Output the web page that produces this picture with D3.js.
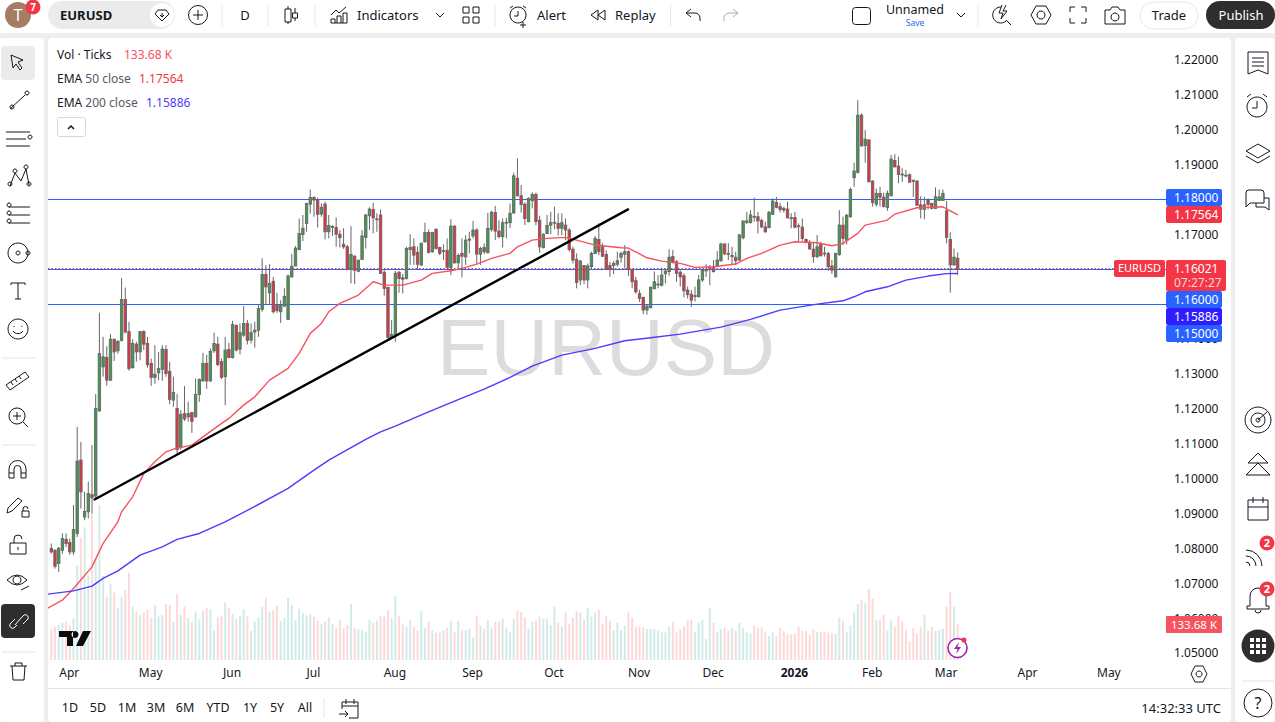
<!DOCTYPE html>
<html>
<head>
<meta charset="utf-8">
<title>EURUSD</title>
<style>
    html, body { margin: 0; padding: 0; background: #eeeeee; overflow: hidden; }
    svg { display: block; font-family: "Noto Sans", sans-serif; }
    .domain { display: none; }
</style>
<script src="https://cdnjs.cloudflare.com/ajax/libs/d3/7.9.0/d3.min.js"></script>
</head>
<body>
<svg id="chart" width="1275" height="722"></svg>
<script>
// daily candles
var opens = [
    1.0801,1.0796,1.0758,1.0796,1.0827,1.0818,1.0791,1.0844,1.1054,1.0891,
    1.0906,1.0955,1.0951,1.1195,1.1321,1.1348,1.1283,1.1400,1.1367,1.1397,
    1.1514,1.1422,1.1319,1.1386,1.1364,1.1422,1.1388,1.1331,1.1291,1.1304,
    1.1314,1.1371,1.1308,1.1226,1.1202,1.1092,1.1187,1.1178,1.1190,1.1178,
    1.1242,1.1281,1.1331,1.1281,1.1367,1.1386,1.1336,1.1293,1.1371,1.1348,
    1.1440,1.1372,1.1412,1.1445,1.1398,1.1421,1.1426,1.1486,1.1586,1.1533,
    1.1566,1.1498,1.1479,1.1495,1.1457,1.1579,1.1610,1.1657,1.1700,1.1732,
    1.1787,1.1806,1.1799,1.1759,1.1787,1.1708,1.1721,1.1720,1.1701,1.1672,
    1.1665,1.1600,1.1638,1.1595,1.1629,1.1692,1.1754,1.1772,1.1743,1.1756,
    1.1592,1.1549,1.1405,1.1414,1.1592,1.1576,1.1574,1.1657,1.1665,1.1649,
    1.1613,1.1679,1.1706,1.1651,1.1715,1.1663,1.1652,1.1655,1.1606,1.1724,
    1.1619,1.1646,1.1636,1.1684,1.1696,1.1713,1.1644,1.1663,1.1648,1.1715,
    1.1763,1.1710,1.1694,1.1733,1.1734,1.1762,1.1861,1.1811,1.1787,1.1737,
    1.1797,1.1815,1.1741,1.1663,1.1703,1.1727,1.1733,1.1732,1.1718,1.1727,
    1.1713,1.1658,1.1629,1.1570,1.1611,1.1570,1.1608,1.1646,1.1686,1.1665,
    1.1643,1.1611,1.1611,1.1615,1.1635,1.1644,1.1651,1.1600,1.1568,1.1531,
    1.1520,1.1484,1.1491,1.1545,1.1556,1.1555,1.1588,1.1594,1.1637,1.1622,
    1.1592,1.1582,1.1541,1.1529,1.1523,1.1522,1.1570,1.1596,1.1604,1.1608,
    1.1610,1.1625,1.1673,1.1646,1.1637,1.1635,1.1627,1.1691,1.1735,1.1734,
    1.1752,1.1751,1.1740,1.1722,1.1720,1.1758,1.1792,1.1780,1.1775,1.1773,
    1.1748,1.1749,1.1725,1.1721,1.1686,1.1677,1.1658,1.1637,1.1673,1.1647,
    1.1646,1.1610,1.1579,1.1643,1.1727,1.1684,1.1751,1.1863,1.1878,1.2042,
    1.1955,1.1971,1.1853,1.1787,1.1818,1.1807,1.1778,1.1811,1.1912,1.1896,
    1.1873,1.1870,1.1871,1.1855,1.1853,1.1785,1.1772,1.1799,1.1789,1.1775,
    1.1798,1.1798,1.1768,1.1686,1.1613,1.1632
];
var highs = [
    1.0815,1.0798,1.0805,1.0844,1.0844,1.0829,1.0925,1.1149,1.1106,1.0963,
    1.0992,1.1097,1.1243,1.1476,1.1407,1.1380,1.1415,1.1402,1.1398,1.1575,
    1.1548,1.1450,1.1400,1.1393,1.1424,1.1426,1.1407,1.1345,1.1383,1.1364,
    1.1383,1.1383,1.1336,1.1293,1.1243,1.1197,1.1266,1.1221,1.1192,1.1288,
    1.1288,1.1361,1.1355,1.1374,1.1419,1.1407,1.1345,1.1407,1.1390,1.1453,
    1.1442,1.1445,1.1495,1.1455,1.1445,1.1450,1.1501,1.1632,1.1612,1.1615,
    1.1579,1.1533,1.1512,1.1546,1.1586,1.1644,1.1667,1.1746,1.1756,1.1791,
    1.1829,1.1810,1.1806,1.1789,1.1794,1.1756,1.1727,1.1749,1.1713,1.1718,
    1.1670,1.1724,1.1641,1.1629,1.1713,1.1759,1.1778,1.1791,1.1761,1.1772,
    1.1598,1.1550,1.1455,1.1596,1.1596,1.1587,1.1665,1.1701,1.1689,1.1665,
    1.1677,1.1734,1.1715,1.1708,1.1718,1.1665,1.1672,1.1689,1.1744,1.1727,
    1.1646,1.1689,1.1698,1.1708,1.1739,1.1718,1.1665,1.1675,1.1762,1.1768,
    1.1782,1.1741,1.1746,1.1748,1.1789,1.1877,1.1918,1.1842,1.1792,1.1806,
    1.1821,1.1820,1.1754,1.1703,1.1756,1.1765,1.1780,1.1761,1.1761,1.1746,
    1.1718,1.1665,1.1646,1.1627,1.1613,1.1617,1.1651,1.1696,1.1732,1.1675,
    1.1655,1.1622,1.1624,1.1651,1.1651,1.1670,1.1655,1.1603,1.1579,1.1541,
    1.1522,1.1498,1.1551,1.1594,1.1584,1.1605,1.1603,1.1658,1.1656,1.1627,
    1.1598,1.1589,1.1551,1.1541,1.1551,1.1584,1.1603,1.1615,1.1613,1.1627,
    1.1653,1.1677,1.1675,1.1675,1.1665,1.1651,1.1701,1.1739,1.1765,1.1770,
    1.1806,1.1765,1.1746,1.1737,1.1768,1.1804,1.1808,1.1791,1.1780,1.1794,
    1.1761,1.1765,1.1732,1.1746,1.1689,1.1684,1.1679,1.1699,1.1679,1.1665,
    1.1651,1.1627,1.1648,1.1770,1.1751,1.1759,1.1834,1.1906,1.2085,1.2047,
    1.1999,1.1973,1.1856,1.1832,1.1837,1.1820,1.1826,1.1928,1.1930,1.1923,
    1.1890,1.1885,1.1875,1.1858,1.1856,1.1810,1.1808,1.1804,1.1791,1.1835,
    1.1829,1.1829,1.1796,1.1706,1.1660,1.1649
];
var lows = [
    1.0786,1.0743,1.0734,1.0786,1.0805,1.0782,1.0782,1.0834,1.0915,1.0882,
    1.0887,1.0901,1.0944,1.1192,1.1293,1.1267,1.1281,1.1338,1.1359,1.1394,
    1.1417,1.1310,1.1316,1.1336,1.1340,1.1369,1.1319,1.1267,1.1273,1.1283,
    1.1281,1.1293,1.1214,1.1207,1.1068,1.1084,1.1166,1.1164,1.1132,1.1176,
    1.1221,1.1278,1.1258,1.1278,1.1361,1.1323,1.1286,1.1211,1.1345,1.1345,
    1.1365,1.1357,1.1407,1.1385,1.1388,1.1376,1.1407,1.1479,1.1498,1.1501,
    1.1474,1.1476,1.1447,1.1493,1.1455,1.1576,1.1610,1.1655,1.1681,1.1708,
    1.1760,1.1751,1.1720,1.1751,1.1686,1.1689,1.1696,1.1665,1.1663,1.1659,
    1.1598,1.1560,1.1558,1.1592,1.1627,1.1660,1.1713,1.1703,1.1708,1.1587,
    1.1525,1.1402,1.1402,1.1393,1.1533,1.1531,1.1571,1.1613,1.1613,1.1600,
    1.1610,1.1677,1.1646,1.1648,1.1657,1.1641,1.1627,1.1603,1.1584,1.1617,
    1.1603,1.1577,1.1613,1.1646,1.1689,1.1617,1.1613,1.1644,1.1646,1.1708,
    1.1684,1.1689,1.1663,1.1689,1.1719,1.1759,1.1810,1.1763,1.1727,1.1735,
    1.1775,1.1727,1.1648,1.1660,1.1701,1.1701,1.1715,1.1697,1.1698,1.1684,
    1.1651,1.1617,1.1546,1.1555,1.1558,1.1546,1.1603,1.1644,1.1641,1.1636,
    1.1598,1.1579,1.1587,1.1608,1.1619,1.1603,1.1581,1.1546,1.1531,1.1507,
    1.1472,1.1471,1.1488,1.1543,1.1546,1.1551,1.1560,1.1582,1.1617,1.1565,
    1.1551,1.1520,1.1517,1.1493,1.1508,1.1520,1.1565,1.1579,1.1555,1.1591,
    1.1608,1.1622,1.1641,1.1627,1.1615,1.1613,1.1625,1.1686,1.1730,1.1732,
    1.1737,1.1703,1.1718,1.1705,1.1718,1.1756,1.1775,1.1763,1.1763,1.1746,
    1.1718,1.1718,1.1679,1.1682,1.1675,1.1656,1.1619,1.1632,1.1638,1.1637,
    1.1596,1.1587,1.1577,1.1639,1.1670,1.1672,1.1749,1.1837,1.1875,1.1952,
    1.1906,1.1851,1.1780,1.1780,1.1780,1.1778,1.1768,1.1810,1.1892,1.1847,
    1.1851,1.1864,1.1849,1.1808,1.1782,1.1746,1.1744,1.1772,1.1772,1.1773,
    1.1796,1.1796,1.1675,1.1534,1.1610,1.1584
];
var closes = [
    1.0791,1.0750,1.0801,1.0829,1.0815,1.0791,1.0855,1.1051,1.0963,1.0907,
    1.0958,1.0946,1.1202,1.1359,1.1350,1.1283,1.1400,1.1364,1.1394,1.1514,
    1.1421,1.1316,1.1388,1.1364,1.1422,1.1386,1.1327,1.1291,1.1300,1.1316,
    1.1372,1.1302,1.1228,1.1248,1.1084,1.1185,1.1172,1.1187,1.1165,1.1242,
    1.1285,1.1331,1.1281,1.1365,1.1388,1.1328,1.1291,1.1369,1.1348,1.1442,
    1.1369,1.1419,1.1445,1.1397,1.1419,1.1426,1.1488,1.1586,1.1550,1.1560,
    1.1479,1.1482,1.1498,1.1523,1.1581,1.1609,1.1661,1.1703,1.1718,1.1789,
    1.1806,1.1799,1.1758,1.1778,1.1708,1.1726,1.1723,1.1701,1.1691,1.1665,
    1.1600,1.1643,1.1598,1.1626,1.1696,1.1756,1.1773,1.1748,1.1745,1.1589,
    1.1546,1.1405,1.1414,1.1589,1.1574,1.1572,1.1660,1.1663,1.1641,1.1615,
    1.1675,1.1706,1.1649,1.1706,1.1660,1.1646,1.1654,1.1606,1.1724,1.1619,
    1.1640,1.1638,1.1684,1.1687,1.1713,1.1644,1.1660,1.1651,1.1718,1.1764,
    1.1710,1.1694,1.1734,1.1735,1.1761,1.1868,1.1811,1.1786,1.1746,1.1804,
    1.1815,1.1737,1.1665,1.1701,1.1726,1.1734,1.1735,1.1718,1.1734,1.1713,
    1.1657,1.1627,1.1563,1.1624,1.1570,1.1610,1.1646,1.1689,1.1651,1.1638,
    1.1600,1.1600,1.1617,1.1625,1.1646,1.1651,1.1600,1.1565,1.1536,1.1517,
    1.1484,1.1495,1.1549,1.1565,1.1558,1.1584,1.1595,1.1635,1.1622,1.1589,
    1.1579,1.1539,1.1528,1.1512,1.1525,1.1570,1.1598,1.1600,1.1606,1.1594,
    1.1627,1.1673,1.1645,1.1644,1.1640,1.1625,1.1699,1.1739,1.1739,1.1756,
    1.1750,1.1739,1.1722,1.1708,1.1764,1.1796,1.1778,1.1772,1.1770,1.1748,
    1.1746,1.1721,1.1723,1.1689,1.1677,1.1659,1.1637,1.1665,1.1639,1.1645,
    1.1608,1.1598,1.1646,1.1727,1.1689,1.1755,1.1829,1.1882,1.2042,1.1954,
    1.1973,1.1851,1.1792,1.1818,1.1807,1.1780,1.1818,1.1916,1.1894,1.1872,
    1.1871,1.1868,1.1850,1.1853,1.1784,1.1773,1.1785,1.1786,1.1775,1.1808,
    1.1808,1.1818,1.1692,1.1613,1.1635,1.1602
];
// tick volume, in thousands
var volumes = [
    114,124,130,139,142,130,155,352,453,493,
    315,542,378,575,312,235,282,250,194,235,
    260,324,198,180,167,177,186,157,204,161,
    167,208,204,142,245,167,198,157,142,180,
    152,183,194,189,111,157,163,213,194,171,
    152,163,189,161,108,142,157,198,230,180,
    186,202,146,157,230,205,149,192,176,165,
    171,161,146,134,142,157,134,120,149,120,
    130,208,120,114,111,104,149,139,146,163,
    163,186,154,238,163,136,124,149,124,109,
    182,118,142,111,102,102,111,121,145,102,
    145,111,111,115,83,163,128,116,149,121,
    142,142,152,121,102,152,182,178,157,116,
    142,146,161,154,152,
    130,198,139,126,176,134,157,180,176,149,
    194,161,176,186,134,163,146,111,139,111,
    128,176,157,124,124,121,115,115,114,109,
    103,102,124,142,102,114,126,146,149,105,
    139,149,78,194,139,105,115,120,111,118,
    108,139,118,102,99,128,118,121,105,89,
    102,89,120,108,95,95,99,124,108,108,
    93,114,105,105,105,103,99,97,157,146,
    105,130,176,208,223,210,264,227,149,149,
    170,111,146,124,163,146,111,68,118,99,
    124,167,108,124,108,111,115,198,254,198,
    133.68
];

// moving averages: bar number and value at the points read
var ema50Bars = [-1,3,6,11,14,18,19,22,25,28,31,33,38,41,45,48,52,55,59,64,67,70,73,75,78,83,87,90,95,100,103,108,111,115,119,124,126,130,134,139,142,147,154,156,161,165,170,174,179,185,188,192,197,201,207,211,214,218,220,226,228,234,237,241,245];
var ema50Values = [1.06298,1.06528,1.06863,1.07482,1.08153,1.08771,1.09058,1.09488,1.10158,1.10491,1.10777,1.10855,1.10968,1.11206,1.11513,1.11733,1.12114,1.12352,1.12831,1.13166,1.13596,1.14169,1.14455,1.14788,1.15029,1.15266,1.15647,1.15553,1.15553,1.15696,1.15888,1.15963,1.16031,1.16155,1.16318,1.16461,1.16650,1.16842,1.16891,1.16920,1.16842,1.16699,1.16622,1.16613,1.16335,1.16240,1.16175,1.16060,1.16077,1.16155,1.16318,1.16461,1.16699,1.16793,1.16765,1.16679,1.16748,1.17034,1.17272,1.17415,1.17587,1.17768,1.17779,1.17796,1.17564];
var ema200Bars = [-1,6,11,14,18,24,30,34,40,47,54,64,71,75,85,89,93,101,109,117,124,130,138,147,155,162,170,181,189,197,207,214,217,220,226,231,237,242,245];
var ema200Values = [1.06699,1.06794,1.06929,1.07150,1.07368,1.07817,1.08055,1.08267,1.08438,1.08771,1.09155,1.09728,1.10252,1.10538,1.11133,1.11350,1.11514,1.11878,1.12230,1.12574,1.12909,1.13233,1.13548,1.13740,1.13958,1.14044,1.14149,1.14349,1.14570,1.14836,1.15008,1.15103,1.15218,1.15361,1.15504,1.15696,1.15811,1.15880,1.15886];

// drawn objects
var levelPrices = [1.18, 1.16, 1.15];
var trendBars = [11.7, 155.9];
var trendPrices = [1.0941, 1.1772];
var lastPrice = 1.16021;

// axes
var priceTicks = [1.22,1.21,1.20,1.19,1.18,1.17,1.14,1.13,1.12,1.11,1.10,1.09,1.08,1.07,1.06,1.05];
var monthBars = [5,27,49,71,93,114,136,159,179,201,222,242,264,286];
var monthNames = ['Apr','May','Jun','Jul','Aug','Sep','Oct','Nov','Dec','2026','Feb','Mar','Apr','May'];
var rangeNames = ['1D','5D','1M','3M','6M','YTD','1Y','5Y','All'];

var INK = '#131722';
var UP = '#3f9c4a', DOWN = '#e8313f', WICK = '#666666';
var BLUE = '#2962ff', RED = '#f23645', EMA50 = '#f7525f', EMA200 = '#4c3cff';

var svg = d3.select('#chart');

// panels
function panel(x, y, w, h, r) {
    return svg.append('rect').attr('x', x).attr('y', y).attr('width', w).attr('height', h).attr('rx', r || 0).attr('fill', '#ffffff');
}
panel(0, 0, 1275, 33);
panel(0, 38, 44, 684, 3);
panel(48, 38, 1183, 684, 4);
panel(1235, 38, 40, 684, 3);
svg.append('line').attr('x1', 48).attr('x2', 1231).attr('y1', 688.5).attr('y2', 688.5).attr('stroke', '#e0e3eb');

var x = d3.scaleLinear().domain([0, 245]).range([51.3, 957.7]);
var y = d3.scaleLinear().domain([1.22, 1.05]).range([60, 653.5]);
var yVol = d3.scaleLinear().domain([0, 133.68]).range([660, 624]);

svg.append('defs').append('clipPath').attr('id', 'pane').append('rect')
    .attr('x', 48).attr('y', 38).attr('width', 1118).attr('height', 622);
var pane = svg.append('g').attr('clip-path', 'url(#pane)');

// watermark
pane.append('text').attr('x', 606).attr('y', 375).attr('text-anchor', 'middle')
    .attr('font-family', 'Liberation Sans').attr('font-size', 80).attr('fill', '#dcdcde').text('EURUSD');

// volume
pane.selectAll('.vol').data(volumes).enter().append('rect').attr('class', 'vol')
    .attr('x', function(d, i){ return x(i) - 1; })
    .attr('width', 2)
    .attr('y', function(d){ return yVol(d); })
    .attr('height', function(d){ return yVol(0) - yVol(d); })
    .attr('fill', function(d, i){ return closes[i] >= opens[i] ? '#d1ece8' : '#fdd9d9'; });

// horizontal levels
pane.selectAll('.level').data(levelPrices).enter().append('line').attr('class', 'level')
    .attr('x1', 48).attr('x2', 1166)
    .attr('y1', function(d){ return Math.floor(y(d)) + 0.5; })
    .attr('y2', function(d){ return Math.floor(y(d)) + 0.5; })
    .attr('stroke', BLUE);

// candles
var candle = pane.selectAll('.candle').data(opens).enter().append('g').attr('class', 'candle');
candle.append('line')
    .attr('x1', function(d, i){ return x(i); })
    .attr('x2', function(d, i){ return x(i); })
    .attr('y1', function(d, i){ return y(highs[i]); })
    .attr('y2', function(d, i){ return y(lows[i]); })
    .attr('stroke', WICK);
candle.append('rect')
    .attr('x', function(d, i){ return x(i) - 1.2; })
    .attr('width', 2.4)
    .attr('y', function(d, i){ return y(Math.max(opens[i], closes[i])); })
    .attr('height', function(d, i){ return Math.max(Math.abs(y(opens[i]) - y(closes[i])), 0.8); })
    .attr('fill', function(d, i){ return closes[i] >= opens[i] ? UP : DOWN; })
    .attr('stroke', WICK).attr('stroke-width', 0.9);

// ema lines
function emaPath(bars, values, colour) {
    var line = d3.line()
        .x(function(d){ return x(d); })
        .y(function(d, i){ return y(values[i]); });
    pane.append('path').attr('d', line(bars)).attr('fill', 'none').attr('stroke', colour)
        .attr('stroke-width', 1.4).attr('stroke-linejoin', 'round');
}
emaPath(ema50Bars, ema50Values, EMA50);
emaPath(ema200Bars, ema200Values, EMA200);

// trend line
pane.append('line')
    .attr('x1', x(trendBars[0])).attr('y1', y(trendPrices[0]))
    .attr('x2', x(trendBars[1])).attr('y2', y(trendPrices[1]))
    .attr('stroke', '#000000').attr('stroke-width', 2.4).attr('stroke-linecap', 'round');

// last price
pane.append('line').attr('x1', 48).attr('x2', 1114)
    .attr('y1', 268.5).attr('y2', 268.5)
    .attr('stroke', RED).attr('stroke-dasharray', '1.5,2');

// price axis
var priceAxis = d3.axisRight(y).tickValues(priceTicks).tickSize(0).tickPadding(0).tickFormat(d3.format('.5f'));
svg.append('g').attr('transform', 'translate(1174,-0.4)').call(priceAxis)
    .selectAll('text').attr('font-family', '"Noto Sans"').attr('font-size', 12).attr('fill', INK);

// time axis
var timeAxis = d3.axisBottom(x).tickValues(monthBars).tickSize(0).tickPadding(0)
    .tickFormat(function(d, i){ return monthNames[i]; });
svg.append('g').attr('transform', 'translate(-1,668)').call(timeAxis)
    .selectAll('text').attr('font-family', '"Noto Sans"').attr('font-size', 12).attr('fill', INK)
    .attr('font-weight', function(d, i){ return monthNames[i] === '2026' ? 700 : 400; });

function label(px, py, txt, colour, size, anchor, weight) {
    return svg.append('text').attr('x', px).attr('y', py).attr('dy', '0.35em')
        .attr('font-size', size || 12).attr('fill', colour || INK)
        .attr('text-anchor', anchor || 'start').attr('font-weight', weight || 400).text(txt);
}

// price labels on the scale
function priceTag(top, h, w, colour, txt) {
    svg.append('rect').attr('x', 1166).attr('y', top).attr('width', w).attr('height', h).attr('rx', 2).attr('fill', colour);
    label(1174, top + h / 2, txt, '#ffffff', 12);
}
priceTag(189, 17, 56, BLUE, d3.format('.5f')(levelPrices[0]));
priceTag(206, 17, 56, RED, '1.17564');
priceTag(291, 17, 56, BLUE, d3.format('.5f')(levelPrices[1]));
priceTag(308, 17, 56, '#2f1cff', '1.15886');
priceTag(325, 17, 56, BLUE, d3.format('.5f')(levelPrices[2]));
svg.append('rect').attr('x', 1166).attr('y', 260).attr('width', 60).attr('height', 31).attr('rx', 2).attr('fill', RED);
label(1174, 268.5, d3.format('.5f')(lastPrice), '#ffffff', 12);
label(1174, 283, '07:27:27', '#ffd3d7', 12);
svg.append('rect').attr('x', 1114).attr('y', 260).attr('width', 51).attr('height', 17).attr('rx', 2).attr('fill', RED);
label(1139.5, 268.5, 'EURUSD', '#ffffff', 11, 'middle');
svg.append('rect').attr('x', 1166).attr('y', 616).attr('width', 56).attr('height', 17).attr('rx', 1).attr('fill', '#f7525f');
label(1194, 624.5, '133.68 K', '#ffffff', 11.5, 'middle');

// legend
label(57, 55, 'Vol · Ticks', INK, 12);
label(124, 55, '133.68 K', '#f7525f', 12);
var legendEma = label(57, 78.5, 'EMA', INK, 12);
legendEma.append('tspan').attr('fill', '#555a66').text(' 50 close');
label(139, 78.5, '1.17564', RED, 12);
var legendEma2 = label(57, 102.5, 'EMA', INK, 12);
legendEma2.append('tspan').attr('fill', '#555a66').text(' 200 close');
label(146, 102.5, '1.15886', EMA200, 12);
svg.append('rect').attr('x', 57.5).attr('y', 117.5).attr('width', 28).attr('height', 19).attr('rx', 2)
    .attr('fill', '#fff').attr('stroke', '#d6d8de');
svg.append('path').attr('d', 'M68 129l3-3 3 3').attr('fill', 'none').attr('stroke', INK).attr('stroke-width', 1.5);

// icons
function icon(px, py, d, colour, width) {
    return svg.append('path').attr('transform', 'translate(' + px + ',' + py + ')').attr('d', d)
        .attr('fill', 'none').attr('stroke', colour || INK).attr('stroke-width', width || 1);
}
function circle(px, py, r, fill, stroke) {
    return svg.append('circle').attr('cx', px).attr('cy', py).attr('r', r)
        .attr('fill', fill || 'none').attr('stroke', stroke || 'none');
}
function badge(px, py, txt, size) {
    circle(px, py, 7.5, RED);
    label(px, py, txt, '#ffffff', size || 11, 'middle', 700);
}
function separator(x1, y1, x2, y2) {
    svg.append('line').attr('x1', x1).attr('y1', y1).attr('x2', x2).attr('y2', y2).attr('stroke', '#e6e6e8');
}

// logo and flash badge
svg.append('path').attr('transform', 'translate(59,631)')
    .attr('d', 'M0 0h14v15h-6v-9h-8zM24 0h8l-8 15h-7zM16 0a3.5 3.5 0 1 0 .01 0')
    .attr('fill', '#0b0b0b');
circle(957.5, 648, 9.5, '#fff', '#9c27b0').attr('stroke-width', 1.6);
svg.append('path').attr('d', 'M959 642l-5 7h3.5l-1.5 5 5-7h-3.5z').attr('fill', '#9c27b0');
circle(964, 640, 2.5, RED);

// top bar
circle(18, 15, 13, '#a67c63');
label(18, 15, 'T', '#ffffff', 16, 'middle');
badge(33, 7, '7', 10);
svg.append('rect').attr('x', 48).attr('y', 1).attr('width', 127).attr('height', 28).attr('rx', 14).attr('fill', '#ebebeb');
label(60, 15, 'EURUSD', INK, 13, 'start', 700);
circle(162, 15, 12, '#ffffff');
icon(155, 10, 'M3 0h8l3 4-7 7-7-7zM7 3v4M5 5l2 2 2-2');
circle(198, 15, 9.5, null, INK);
icon(198, 15, 'M-5 0h10M0-5v10');
label(245, 15, 'D', INK, 13, 'middle');
icon(285, 6, 'M3 0v3M3 16v2M0 3h6v13h-6zM10 2v5M10 12v3M7.500 7h5v5h-5z');
icon(331, 7, 'M0 8l5-5 3 3 7-6M0 16v-4h4v4M6 16v-7h4v7M12 16v-10h4v10M0 16h16');
label(357, 15, 'Indicators', INK, 13);
icon(436, 13, 'M0 0l4 4 4-4');
icon(463, 7, 'M0 0h6v6h-6zM10 0h6v6h-6zM0 10h6v6h-6zM10 10h6v6h-6z');
icon(509, 7, 'M9 0a8 8 0 1 0 .01 0M9 4v5h-4M1 1l3-2M17 1l-3-2M14 15v6M11 18h6');
label(537, 15, 'Alert', INK, 13);
icon(590, 10, 'M8 0l-7 5 7 5zM15 0l-7 5 7 5z');
label(615, 15, 'Replay', INK, 13);
icon(686, 9, 'M5 0l-5 4 5 4M0 4h9a5 5 0 0 1 5 5v3');
icon(724, 9, 'M9 0l5 4-5 4M14 4h-9a5 5 0 0 0-5 5v3', '#a9acb3');
svg.append('rect').attr('x', 852.5).attr('y', 7.500).attr('width', 18).attr('height', 17).attr('rx', 3).attr('fill', 'none').attr('stroke', INK);
label(915, 9.5, 'Unnamed', INK, 12.5, 'middle');
label(915, 23, 'Save', BLUE, 8.5, 'middle');
icon(957, 13, 'M0 0l4 4 4-4');
icon(993, 5, 'M8 2a8 8 0 1 0 5 14M13 15l5 5M9 0l-3 8h4l-2 6 6-8h-4l3-6');
icon(1031, 6, 'M5 0h10l5 9-5 9h-10l-5-9zM10 5a4 4 0 1 0 .01 0');
icon(1070, 7, 'M0 5v-5h5M11 0h5v5M16 11v5h-5M5 16h-5v-5');
icon(1105, 7, 'M0 3h5l2-3h6l2 3h5v14h-20zM10 6a4 4 0 1 0 .01 0');
svg.append('rect').attr('x', 1140).attr('y', 2).attr('width', 58).attr('height', 27).attr('rx', 13.5).attr('fill', '#fff').attr('stroke', '#e8e8ea');
label(1169, 15, 'Trade', INK, 13, 'middle');
svg.append('rect').attr('x', 1206).attr('y', 1).attr('width', 69).attr('height', 28).attr('rx', 14).attr('fill', '#2e2e2e');
label(1241, 15, 'Publish', '#ffffff', 13, 'middle');
[222, 268, 315, 495, 670.5, 978].forEach(function(sx){ separator(sx, 5, sx, 26); });

// left toolbar
svg.append('rect').attr('x', 1).attr('y', 46).attr('width', 34).attr('height', 34).attr('rx', 4).attr('fill', '#ebebeb');
icon(11, 55, 'M0 0l12 5-5 2 4 6-2 2-4-6-3 4z');
icon(8, 92, 'M2 17l15-14M4 17a2 2 0 1 0-.01 0M19 3a2 2 0 1 0-.01 0');
icon(6, 132, 'M0 0h24M0 7h20M0 14h24M24 7a2 2 0 1 0-.01 0');
icon(8, 168, 'M2 18l5-13 6 8 5-12 3 16M2 18a2 2 0 1 0-.01 0M7 5a2 2 0 1 0-.01 0M21 18a2 2 0 1 0-.01 0M18 1a2 2 0 1 0-.01 0');
icon(6, 207, 'M3 0h21M3 8h21M3 16h21M3 0a2 2 0 1 0-.01 0M3 8a2 2 0 1 0-.01 0M3 16a2 2 0 1 0-.01 0');
icon(8, 243, 'M10 0a10 10 0 1 0 .01 0M10 8a2 2 0 1 0 .01 0M20 8a2 2 0 1 0 .01 0');
icon(11, 283, 'M0 2v-2h14v2M7 0v16M4 16h6');
icon(8, 319, 'M10 0a10 10 0 1 0 .01 0M5 12a6 6 0 0 0 10 0M6 7v1M14 7v1');
separator(2, 358, 36, 358);
icon(6, 370, 'M0 15l19-13 4 5-19 13zM5 12l2 3M9 9l2 3M13 6l2 3');
icon(9, 408, 'M8 0a8 8 0 1 0 .01 0M8 4v8M4 8h8M14 14l5 5');
separator(2, 445, 36, 445);
icon(9, 460, 'M0 18v-9a8.500 8.500 0 0 1 17 0v9h-5v-9a3.500 3.500 0 0 0-7 0v9zM0 13h5M12 13h5');
icon(8, 498, 'M0 10l10-10 4 3-10 10-5 2zM14 13h7v6h-7zM15 13v-2a2.500 2.500 0 0 1 5 0');
icon(10, 535, 'M0 8h16v11h-16zM4 8v-4a4 4 0 0 1 8 0M8 12v3');
icon(7, 573, 'M0 7q10-10 20 0q-10 10-20 0M10 3a4 4 0 1 0 .01 0M14 17l8-4');
svg.append('rect').attr('x', 1).attr('y', 604).attr('width', 34).attr('height', 34).attr('rx', 4).attr('fill', '#2e2e2e');
icon(9, 613, 'M8 12l-3 3a3 3 0 0 1-4-4l5-5M12 5l3-3a3 3 0 0 1 4 4l-5 5M6 12l6-7', '#ffffff');
separator(2, 652, 36, 652);
icon(10, 663, 'M0 3h17M5 3v-3h7v3M2 3l1 14h11l1-14');

// right toolbar
icon(1248, 52, 'M0 0h20v22l-10-4-10 4zM4 6h12M4 10h12M4 14h12');
icon(1245, 95, 'M12 2a10 10 0 1 0 .01 0M12 6v7h-5M2 2l4-3M22 2l-4-3');
icon(1246, 144, 'M12 0l12 7-12 7-12-7zM0 12l12 7 12-7');
icon(1246, 190, 'M0 3a3 3 0 0 1 3-3h12a3 3 0 0 1 3 3v10h-14l-4 4zM18 8h5v12l-4-3h-9v-4');
icon(1245, 407, 'M13 0a13 13 0 1 0 .01 0M13 6a7 7 0 1 0 .01 0M13 11a2 2 0 1 0 .01 0M13 13l9-8');
icon(1246, 453, 'M12 0l10 10h-20zM0 22l12-12 12 12z');
icon(1246, 496, 'M2 4h20v20h-20zM2 11h20M7 1v6M17 1v6');
icon(1246, 542, 'M0 8a16 16 0 0 1 16 16M0 14a10 10 0 0 1 10 10M0 20a4 4 0 0 1 4 4');
badge(1267, 543, '2');
icon(1246, 588, 'M12 0a8 8 0 0 1 8 8v10h3v3h-22v-3h3v-10a8 8 0 0 1 8-8M9 22a3 3 0 0 0 6 0');
badge(1267, 589, '2');
circle(1258, 646, 16.5, '#2e2e2e');
[-6, 0, 6].forEach(function(dy){
    [-6, 0, 6].forEach(function(dx){
        svg.append('rect').attr('x', 1256 + dx).attr('y', 644 + dy).attr('width', 4).attr('height', 4).attr('fill', '#fff');
    });
});
separator(1242, 681, 1274, 681);
circle(1258, 703, 14, null, INK);
label(1258, 703, '?', INK, 16, 'middle');

// settings next to the time axis
icon(1191, 666, 'M4 0h8l4 8-4 8h-8l-4-8zM8 5a3 3 0 1 0 .01 0');

// bottom bar
var rangeX = [70, 98, 127, 156, 185, 218, 250, 277, 305];
rangeNames.forEach(function(name, i){
    label(rangeX[i], 708, name, INK, 12.5, 'middle');
});
separator(324, 698, 324, 718);
icon(339, 699, 'M3 3h16v16h-9M3 3v7M3 7h16M7 0v5M15 0v5M0 15h9M6 12l3 3-3 3');
label(1221, 708, '14:32:33 UTC', INK, 13, 'end');
</script>
</body>
</html>
